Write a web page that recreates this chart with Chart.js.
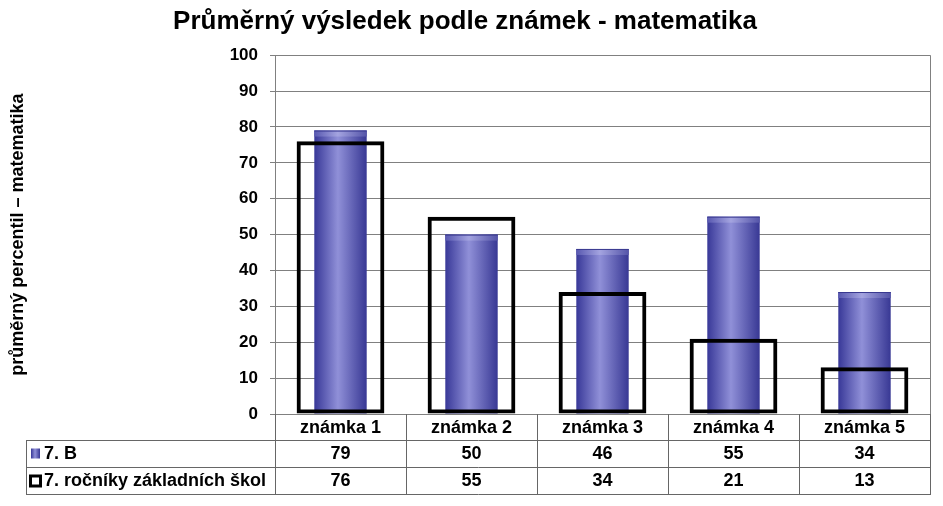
<!DOCTYPE html>
<html>
<head>
<meta charset="utf-8">
<script src="https://cdn.jsdelivr.net/npm/chart.js@4"></script>
<style>
  body { margin: 0; background: #fff; }
  #wrap { width: 943px; height: 506px; position: relative; }
</style>
</head>
<body>
<div id="wrap"><canvas id="chartZnamky"></canvas></div>
<script>
const categories = ["známka 1", "známka 2", "známka 3", "známka 4", "známka 5"];
const seriesNames = ["7. B", "7. ročníky základních škol"];
const valuesTrida = [79, 50, 46, 55, 34];
const valuesRocniky = [76, 55, 34, 21, 13];
const yMin = 0;
const yMax = 100;
const yStep = 10;

const FONT = "'Liberation Sans', Arial, sans-serif";
const BLUE_BAR = 0.40;
const BOX_BAR = 0.67;

// horizontal "cylinder" gradient across one bar
const cylinderGradient = (ctx, x0, x1) => {
  const g = ctx.createLinearGradient(x0, 0, x1, 0);
  g.addColorStop(0, "#383898");
  g.addColorStop(0.45, "#9090d8");
  g.addColorStop(1, "#383894");
  return g;
};

const cylinderFill = (context) => {
  const chart = context.chart;
  const xScale = chart.scales.x;
  if (!chart.chartArea || !xScale) return "#5a5ab8";
  const cx = xScale.getPixelForValue(context.dataIndex);
  const w = (chart.chartArea.width / categories.length) * BLUE_BAR;
  return cylinderGradient(chart.ctx, cx - w / 2, cx + w / 2);
};

// light top cap on the blue bars
const capPlugin = {
  id: "cap",
  afterDatasetDraw(chart, args) {
    if (args.index !== 0) return;
    const ctx = chart.ctx;
    ctx.save();
    args.meta.data.forEach((el) => {
      const { x, y, width } = el.getProps(["x", "y", "width"], true);
      const g = ctx.createLinearGradient(x - width / 2, 0, x + width / 2, 0);
      g.addColorStop(0, "#5858b0");
      g.addColorStop(0.45, "#a4a4e0");
      g.addColorStop(1, "#5454a8");
      ctx.fillStyle = g;
      ctx.fillRect(x - width / 2, y, width, 6);
      ctx.fillStyle = "#3a3a90";
      ctx.fillRect(x - width / 2, y, width, 1);
    });
    ctx.restore();
  },
};

// right border of plot + data table under the chart
const tablePlugin = {
  id: "table",
  afterDraw(chart) {
    const ctx = chart.ctx;
    const { left, right, top, bottom } = chart.chartArea;
    const xScale = chart.scales.x;
    const n = categories.length;
    const catW = (right - left) / n;
    const tableLeft = 26;
    const r1 = bottom + 26;
    const r2 = r1 + 27;
    const r3 = r2 + 27;

    ctx.save();
    ctx.strokeStyle = "#808080";
    ctx.lineWidth = 1;
    ctx.beginPath();
    ctx.moveTo(right + 0.5, top);
    ctx.lineTo(right + 0.5, bottom);
    ctx.stroke();

    ctx.strokeStyle = "#666666";
    ctx.beginPath();
    [r1, r2, r3].forEach((y) => {
      ctx.moveTo(tableLeft, y + 0.5);
      ctx.lineTo(right + 1, y + 0.5);
    });
    ctx.moveTo(tableLeft + 0.5, r1);
    ctx.lineTo(tableLeft + 0.5, r3);
    for (let i = 0; i <= n; i++) {
      const x = Math.round(left + i * catW) + 0.5;
      ctx.moveTo(x, bottom);
      ctx.lineTo(x, r3);
    }
    ctx.stroke();

    ctx.fillStyle = "#000";
    ctx.font = "bold 18px " + FONT;
    ctx.textAlign = "center";
    ctx.textBaseline = "middle";
    categories.forEach((c, i) => {
      const x = xScale.getPixelForValue(i);
      ctx.fillText(c, x, (bottom + r1) / 2 + 1);
      ctx.fillText(String(valuesTrida[i]), x, (r1 + r2) / 2 + 1);
      ctx.fillText(String(valuesRocniky[i]), x, (r2 + r3) / 2 + 1);
    });

    // legend keys
    const ky1 = (r1 + r2) / 2;
    const ky2 = (r2 + r3) / 2;
    ctx.fillStyle = cylinderGradient(ctx, 31, 40);
    ctx.fillRect(31, ky1 - 5, 9, 10);
    ctx.fillStyle = "#000";
    ctx.fillRect(29, ky2 - 6, 13, 13);
    ctx.fillStyle = "#fff";
    ctx.fillRect(32, ky2 - 3, 7, 7);

    ctx.fillStyle = "#000";
    ctx.textAlign = "left";
    ctx.fillText(seriesNames[0], 44, ky1 + 1);
    ctx.fillText(seriesNames[1], 44, ky2 + 1);
    ctx.restore();
  },
};

const ctx = document.getElementById("chartZnamky").getContext("2d");
const myChart = new Chart(ctx, {
  type: "bar",
  data: {
    labels: categories,
    datasets: [
      {
        label: seriesNames[0],
        data: valuesTrida,
        grouped: false,
        order: 1,
        categoryPercentage: 1,
        barPercentage: BLUE_BAR,
        backgroundColor: cylinderFill,
        borderWidth: 0,
      },
      {
        label: seriesNames[1],
        data: valuesRocniky,
        grouped: false,
        order: 0,
        categoryPercentage: 1,
        barPercentage: BOX_BAR,
        backgroundColor: "rgba(0,0,0,0)",
        borderColor: "#000",
        borderWidth: 4,
        borderSkipped: false,
      },
    ],
  },
  options: {
    responsive: true,
    maintainAspectRatio: false,
    devicePixelRatio: 1,
    animation: false,
    layout: {
      padding: { left: 0, right: 13, top: 0, bottom: 92 },
    },
    plugins: {
      legend: { display: false },
      tooltip: { enabled: false },
      title: {
        display: true,
        text: "Průměrný výsledek podle známek - matematika",
        color: "#000",
        font: { family: FONT, size: 26, weight: "bold" },
        padding: { top: 6, bottom: 18 },
      },
    },
    scales: {
      x: {
        display: false,
      },
      y: {
        min: yMin,
        max: yMax,
        afterFit: (scale) => {
          scale.width = 275;
        },
        ticks: {
          stepSize: yStep,
          color: "#000",
          padding: 12,
          font: { family: FONT, size: 17, weight: "bold" },
        },
        grid: {
          color: "#808080",
          lineWidth: 1,
          tickLength: 5,
        },
        border: { color: "#808080" },
        title: {
          display: true,
          text: "průměrný percentil – matematika",
          color: "#000",
          font: { family: FONT, size: 18, weight: "bold" },
          padding: { top: 7, bottom: 0 },
        },
      },
    },
  },
  plugins: [capPlugin, tablePlugin],
});
</script>
</body>
</html>
